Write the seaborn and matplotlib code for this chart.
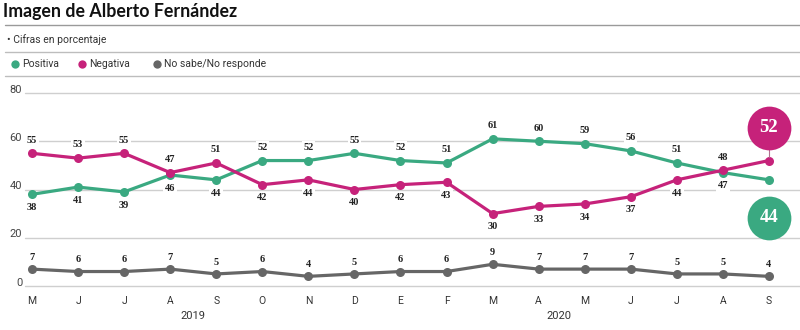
import matplotlib
matplotlib.use("Agg")
import matplotlib.pyplot as plt
import matplotlib.lines as mlines
import seaborn as sns
import pandas as pd

# Survey months, May 2019 – Sep 2020
months = ["M", "J", "J", "A", "S", "O", "N", "D", "E", "F", "M", "A", "M", "J", "J", "A", "S"]
positiva = [38, 41, 39, 46, 44, 52, 52, 55, 52, 51, 61, 60, 59, 56, 51, 47, 44]
negativa = [55, 53, 55, 47, 51, 42, 44, 40, 42, 43, 30, 33, 34, 37, 44, 48, 52]
ns_nr = [7, 6, 6, 7, 5, 6, 4, 5, 6, 6, 9, 7, 7, 7, 5, 5, 4]
series_names = ["Positiva", "Negativa", "No sabe/No responde"]
years = ["2019", "2020"]
y_ticks = [0, 20, 40, 60, 80]

GREEN = "#3aa981"
MAGENTA = "#c6227a"
GRAY = "#666666"
palette = {"Positiva": GREEN, "Negativa": MAGENTA, "No sabe/No responde": GRAY}

sns.set_theme(style="white")
plt.rcParams["font.family"] = ["Roboto", "DejaVu Sans"]

idx = list(range(len(months)))
df = pd.DataFrame({
    "idx": idx * 3,
    "valor": positiva + negativa + ns_nr,
    "serie": [series_names[0]] * len(idx) + [series_names[1]] * len(idx) + [series_names[2]] * len(idx),
})

W, H = 800, 330
fig = plt.figure(figsize=(8, 3.3), dpi=100)

# Plot area: gridline at 0 sits at y=286 px, 80 at y=93 px
ax = fig.add_axes([25 / W, (H - 286) / H, 775 / W, (286 - 93) / H])
sns.lineplot(data=df, x="idx", y="valor", hue="serie", palette=palette,
             marker="o", markersize=6.5, markeredgewidth=0, linewidth=2.3,
             legend=False, ax=ax, zorder=3)
for ln in ax.lines:
    ln.set_clip_on(False)

x_left = -7 / 46.06
x_right = 16 + 31 / 46.06
ax.set_xlim(x_left, x_right)
ax.set_ylim(0, 80)
for s in ax.spines.values():
    s.set_visible(False)
ax.set_xlabel("")
ax.set_ylabel("")
ax.set_yticks([])
ax.set_xticks(idx)
ax.set_xticklabels(months, fontsize=7.5, color="#333333")
ax.tick_params(axis="x", length=0, pad=7.5)

# Horizontal gridlines and their labels
for v in y_ticks:
    ax.axhline(v, color="#cfcfcf", linewidth=1, zorder=0, clip_on=False)
    ax.annotate(str(v), xy=(0, v), xycoords=("axes fraction", "data"),
                xytext=(-2, 2.5), textcoords="offset points",
                ha="right", va="center", fontsize=8, color="#444444",
                annotation_clip=False)

# Value labels: the higher of the two main series above, the lower below
lab_kw = dict(textcoords="offset points", ha="center", va="center",
              fontsize=7.5, fontweight="bold", color="#222222",
              family=["Liberation Serif", "DejaVu Serif"],
              bbox=dict(boxstyle="square,pad=0.15", fc="white", ec="none"), zorder=2)
last = len(idx) - 1
for i in idx:
    p, n = positiva[i], negativa[i]
    if i != last:
        ax.annotate(str(p), xy=(i, p), xytext=(0, 9.5 if p > n else -9.5), **lab_kw)
        ax.annotate(str(n), xy=(i, n), xytext=(0, 9.5 if n > p else -9.5), **lab_kw)
    ax.annotate(str(ns_nr[i]), xy=(i, ns_nr[i]), xytext=(0, 8.5), **lab_kw)

# Latest values highlighted in large circles
for val, cy, col in [(negativa[last], 65.5, MAGENTA), (positiva[last], 28.2, GREEN)]:
    ax.plot([last], [cy], marker="o", markersize=31.5, color=col,
            markeredgewidth=0, clip_on=False, zorder=5)
    ax.text(last, cy, str(val), ha="center", va="center", fontsize=13.5,
            fontweight="bold", color="white", zorder=6,
            family=["Liberation Serif", "DejaVu Serif"])
ax.plot([last, last], [negativa[last] + 1.5, 65.5 - 8], color="#b07090",
        linewidth=0.8, zorder=4, clip_on=False)

# Year labels under the month axis
ax.annotate(years[0], xy=(3.5, 0), xycoords="data", xytext=(0, -21.5),
            textcoords="offset points", ha="center", va="center",
            fontsize=8, color="#333333", annotation_clip=False)
ax.annotate(years[1], xy=(11.45, 0), xycoords="data", xytext=(0, -21.5),
            textcoords="offset points", ha="center", va="center",
            fontsize=8, color="#333333", annotation_clip=False)

# Header: title, note and legend separated by rules
fig.text(3 / W, 1 - 12 / H, "Imagen de Alberto Fernández", fontsize=12.8,
         fontweight="bold", color="#111111", va="center", ha="left",
         family=["Lato", "DejaVu Sans"])
fig.text(7 / W, 1 - 40 / H, "• Cifras en porcentaje", fontsize=7.5,
         color="#333333", va="center", ha="left")
for yy, col in [(25, "#9a9a9a"), (52, "#bdbdbd"), (76, "#bdbdbd")]:
    fig.add_artist(mlines.Line2D([5 / W, 1], [1 - yy / H, 1 - yy / H],
                                 color=col, linewidth=1, transform=fig.transFigure))

legend_x = [15, 82, 157]
for lx, name in zip(legend_x, series_names):
    fig.add_artist(mlines.Line2D([lx / W], [1 - 64 / H], marker="o", markersize=6,
                                 color=palette[name], markeredgewidth=0,
                                 transform=fig.transFigure))
    fig.text((lx + 7) / W, 1 - 64 / H, name, fontsize=7.5, color="#333333",
             va="center", ha="left")

fig.savefig("out.png", dpi=100, facecolor="white")
